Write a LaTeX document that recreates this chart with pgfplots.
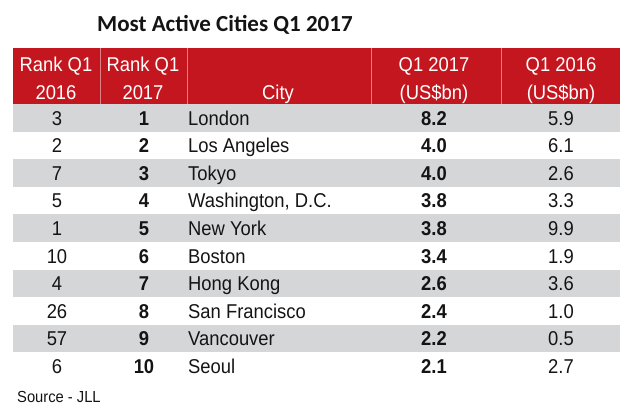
\documentclass[border=0pt]{standalone}
\usepackage{fontspec}
\setmainfont{Liberation Sans}[FakeStretch=0.92]
\newfontfamily\titlefont{Carlito}
\usepackage{pgfplots}
\usepackage{pgfplotstable}
\pgfplotsset{compat=1.18}
\definecolor{hdrred}{RGB}{195,22,30}
\definecolor{rowgrey}{RGB}{213,214,215}
\definecolor{txt}{RGB}{20,20,20}
\pgfplotstableread[col sep=semicolon]{
row;r16;r17;city;q17;q16
1;3;1;London;8.2;5.9
2;2;2;Los Angeles;4.0;6.1
3;7;3;Tokyo;4.0;2.6
4;5;4;Washington, D.C.;3.8;3.3
5;1;5;New York;3.8;9.9
6;10;6;Boston;3.4;1.9
7;4;7;Hong Kong;2.6;3.6
8;26;8;San Francisco;2.4;1.0
9;57;9;Vancouver;2.2;0.5
10;6;10;Seoul;2.1;2.7
}\cities
\begin{document}
\begin{tikzpicture}
\begin{axis}[
  width=642bp, height=413bp, scale only axis,
  xmin=0, xmax=642, ymin=0, ymax=413, y dir=reverse,
  hide axis, clip=false,
  every node near coord/.append style={text=txt, inner sep=0pt},
]
\path (axis cs:0,0) rectangle (axis cs:642,413);
% header band
\fill[hdrred] (axis cs:13,48) rectangle (axis cs:620,104);
\draw[white!45!hdrred, line width=0.6pt] (axis cs:100,48) -- (axis cs:100,104);
\draw[white!45!hdrred, line width=0.6pt] (axis cs:187,48) -- (axis cs:187,104);
\draw[white!45!hdrred, line width=0.6pt] (axis cs:371,48) -- (axis cs:371,104);
\draw[white!45!hdrred, line width=0.6pt] (axis cs:501,48) -- (axis cs:501,104);
% grey rows
\fill[rowgrey] (axis cs:13,104) rectangle (axis cs:620,131.6);
\fill[rowgrey] (axis cs:13,159.2) rectangle (axis cs:620,186.8);
\fill[rowgrey] (axis cs:13,214.4) rectangle (axis cs:620,242.0);
\fill[rowgrey] (axis cs:13,269.6) rectangle (axis cs:620,297.2);
\fill[rowgrey] (axis cs:13,324.8) rectangle (axis cs:620,352.4);
% title
\node[anchor=base west, inner sep=0pt, text=txt] at (axis cs:97,32)
  {\titlefont\bfseries\fontsize{23bp}{26bp}\selectfont Most Active Cities Q1 2017};
% header text
\node[anchor=base, inner sep=0pt, text=white, font=\fontsize{20bp}{24bp}\selectfont] at (axis cs:56,72) {Rank Q1};
\node[anchor=base, inner sep=0pt, text=white, font=\fontsize{20bp}{24bp}\selectfont] at (axis cs:56,99) {2016};
\node[anchor=base, inner sep=0pt, text=white, font=\fontsize{20bp}{24bp}\selectfont] at (axis cs:143,72) {Rank Q1};
\node[anchor=base, inner sep=0pt, text=white, font=\fontsize{20bp}{24bp}\selectfont] at (axis cs:143,99) {2017};
\node[anchor=base, inner sep=0pt, text=white, font=\fontsize{20bp}{24bp}\selectfont] at (axis cs:278,99) {City};
\node[anchor=base, inner sep=0pt, text=white, font=\fontsize{20bp}{24bp}\selectfont] at (axis cs:434,72) {Q1 2017};
\node[anchor=base, inner sep=0pt, text=white, font=\fontsize{20bp}{24bp}\selectfont] at (axis cs:434,99) {(US\$bn)};
\node[anchor=base, inner sep=0pt, text=white, font=\fontsize{20bp}{24bp}\selectfont] at (axis cs:561,72) {Q1 2016};
\node[anchor=base, inner sep=0pt, text=white, font=\fontsize{20bp}{24bp}\selectfont] at (axis cs:561,99) {(US\$bn)};
% body columns
\addplot[draw=none, nodes near coords, point meta=explicit symbolic,
  nodes near coords style={anchor=base, font=\fontsize{20bp}{24bp}\selectfont}]
  table[x expr=57, y expr=97.4+27.6*\thisrow{row}, meta=r16] {\cities};
\addplot[draw=none, nodes near coords, point meta=explicit symbolic,
  nodes near coords style={anchor=base, font=\bfseries\fontsize{20bp}{24bp}\selectfont}]
  table[x expr=144, y expr=97.4+27.6*\thisrow{row}, meta=r17] {\cities};
\addplot[draw=none, nodes near coords, point meta=explicit symbolic,
  nodes near coords style={anchor=base west, font=\fontsize{20bp}{24bp}\selectfont}]
  table[x expr=188, y expr=97.4+27.6*\thisrow{row}, meta=city] {\cities};
\addplot[draw=none, nodes near coords, point meta=explicit symbolic,
  nodes near coords style={anchor=base, font=\bfseries\fontsize{20bp}{24bp}\selectfont}]
  table[x expr=434, y expr=97.4+27.6*\thisrow{row}, meta=q17] {\cities};
\addplot[draw=none, nodes near coords, point meta=explicit symbolic,
  nodes near coords style={anchor=base, font=\fontsize{20bp}{24bp}\selectfont}]
  table[x expr=561, y expr=97.4+27.6*\thisrow{row}, meta=q16] {\cities};
% source
\node[anchor=base west, inner sep=0pt, text=txt, font=\fontsize{16bp}{19bp}\selectfont]
  at (axis cs:17,402) {Source - JLL};
\end{axis}
\end{tikzpicture}
\end{document}
